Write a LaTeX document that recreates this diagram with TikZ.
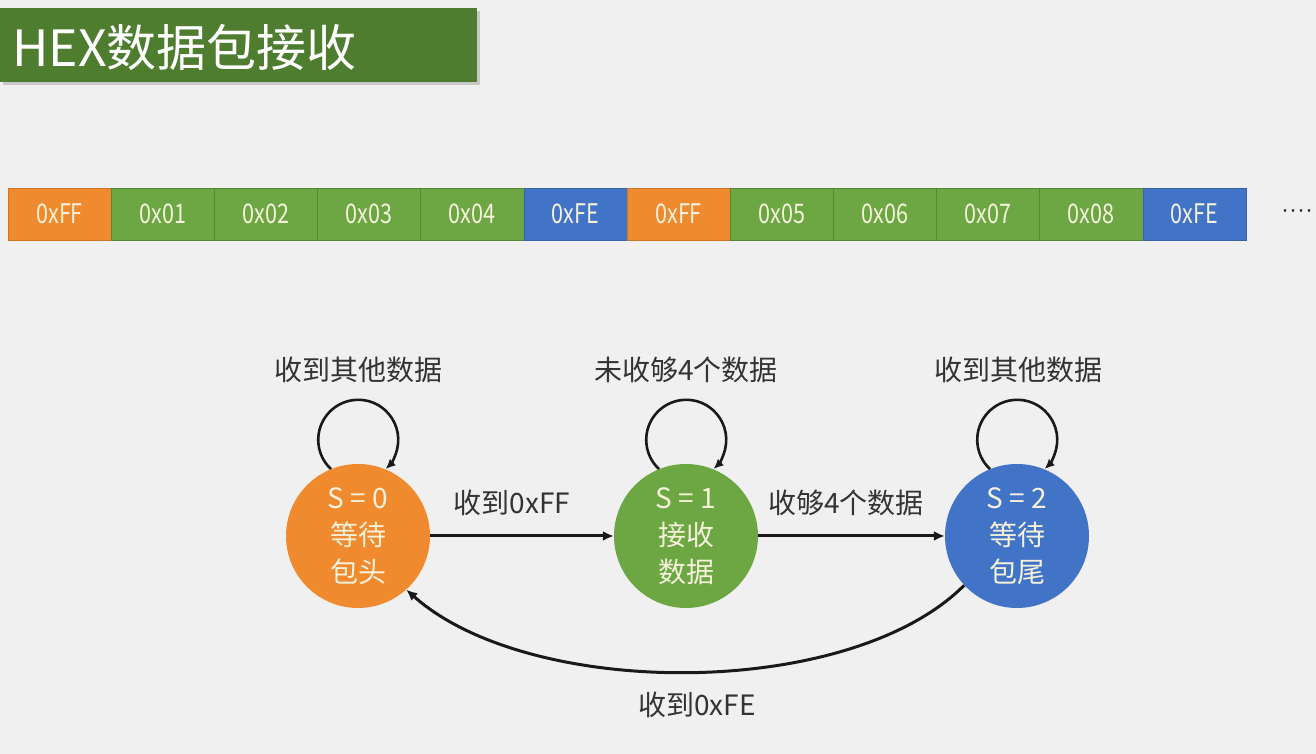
\documentclass[tikz,border=0pt]{standalone}
\usepackage{fontspec}
\setmainfont{Noto Sans CJK SC}
\newfontfamily\hexfont[FakeStretch=0.8]{Noto Sans CJK SC}
\newfontfamily\dotfont{Liberation Sans}
\usetikzlibrary{arrows.meta,shadows}

\definecolor{bgc}{HTML}{F0F0F0}
\definecolor{titlegreen}{HTML}{4E7D2F}
\definecolor{pkorange}{HTML}{F08A2E}
\definecolor{pkgreen}{HTML}{6CA744}
\definecolor{pkblue}{HTML}{4173C6}
\definecolor{pktext}{HTML}{F5F1DA}
\definecolor{lbl}{HTML}{333333}

\tikzset{
  cell/.style={minimum width=103.17pt, minimum height=52pt, inner sep=0pt, outer sep=0pt,
    text=pktext, font=\hexfont\fontsize{27}{30}\selectfont, anchor=west},
  fcell/.style={cell, fill=pkorange, draw=pkorange!85!black, line width=0.6pt},
  dcell/.style={cell, fill=pkgreen, draw=pkgreen!80!black, line width=0.6pt},
  ecell/.style={cell, fill=pkblue, draw=pkblue!85!black, line width=0.6pt},
  state/.style={circle, minimum size=144pt, inner sep=0pt, align=center,
    text=pktext, font=\fontsize{28}{37}\selectfont},
  lab/.style={text=lbl, font=\fontsize{28}{34}\selectfont},
  conn/.style={line width=3pt, draw=black!90, -{Latex[length=11pt,width=10pt]}},
  selfloop/.style={line width=2.6pt, draw=black!90, -{Latex[length=10pt,width=9pt]}}
}

\begin{document}
\begin{tikzpicture}[x=1pt,y=1pt]
  % canvas
  \fill[bgc] (0,0) rectangle (1316,754);
  \useasboundingbox (0,0) rectangle (1316,754);

  % title bar
  \node[fill=titlegreen, minimum width=477pt, minimum height=74pt, inner sep=0pt,
        anchor=north west, drop shadow={opacity=0.35, shadow xshift=3pt, shadow yshift=-3pt}]
        (titlebar) at (0,746) {};
  \node[anchor=west, text=white, font=\fontsize{50}{56}\selectfont, inner sep=0pt]
        (title) at (12,707) {HEX数据包接收};

  % byte stream
  \node[fcell] (c1)  at (8,540) {0xFF};
  \node[dcell] (c2)  at (c1.east)  {0x01};
  \node[dcell] (c3)  at (c2.east)  {0x02};
  \node[dcell] (c4)  at (c3.east)  {0x03};
  \node[dcell] (c5)  at (c4.east)  {0x04};
  \node[ecell] (c6)  at (c5.east)  {0xFE};
  \node[fcell] (c7)  at (c6.east)  {0xFF};
  \node[dcell] (c8)  at (c7.east)  {0x05};
  \node[dcell] (c9)  at (c8.east)  {0x06};
  \node[dcell] (c10) at (c9.east)  {0x07};
  \node[dcell] (c11) at (c10.east) {0x08};
  \node[ecell] (c12) at (c11.east) {0xFE};
  \node[anchor=west, text=lbl, font=\dotfont\fontsize{24}{28}\selectfont, inner sep=0pt]
        (more) at (1281,540) {····};

  % states
  \node[state, fill=pkorange] (s0) at (358,218) {S = 0\\等待\\包头};
  \node[state, fill=pkgreen]  (s1) at (686,218) {S = 1\\接收\\数据};
  \node[state, fill=pkblue]   (s2) at (1017,218) {S = 2\\等待\\包尾};

  % self loops
  \draw[selfloop] (s0.112) arc[start angle=227, end angle=-47, radius=40];
  \draw[selfloop] (s1.112) arc[start angle=227, end angle=-47, radius=40];
  \draw[selfloop] (s2.112) arc[start angle=227, end angle=-47, radius=40];

  \node[lab] (l0) at (358,384) {收到其他数据};
  \node[lab] (l1) at (686,384) {未收够4个数据};
  \node[lab] (l2) at (1018,384) {收到其他数据};

  % transitions
  \draw[conn] (s0) -- (s1);
  \draw[conn] (s1) -- (s2);
  \node[lab] (t01) at (512,251) {收到0xFF};
  \node[lab] (t12) at (846,251) {收够4个数据};

  \draw[conn] (s2.223) .. controls (850,54) and (530,54) .. (s0.312);
  \node[lab] (t20) at (697,49) {收到0xFE};
\end{tikzpicture}
\end{document}
